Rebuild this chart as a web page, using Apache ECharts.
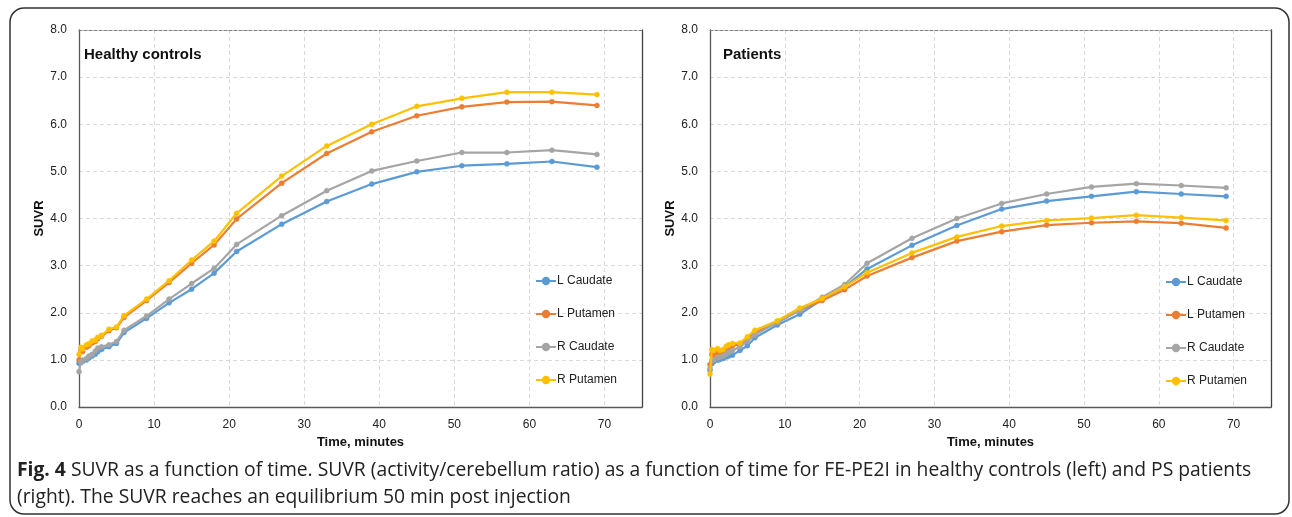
<!DOCTYPE html>
<html>
<head>
<meta charset="utf-8">
<script src="https://cdn.jsdelivr.net/npm/echarts@6/dist/echarts.min.js"></script>
<style>
  html, body { margin: 0; padding: 0; background: #fff; }
  #chart { width: 1292px; height: 517px; }
</style>
</head>
<body>
<div id="chart"></div>
<script>
// ---- data ----
const times = [0, 0.25, 0.5, 1, 1.33, 1.75, 2.17, 2.5, 3, 4, 5, 6, 9, 12, 15, 18, 21, 27, 33, 39, 45, 51, 57, 63, 69];
const seriesNames = ['L Caudate', 'L Putamen', 'R Caudate', 'R Putamen'];
const xTickLabels = [0, 10, 20, 30, 40, 50, 60, 70];
const yTickLabels = ['0.0', '1.0', '2.0', '3.0', '4.0', '5.0', '6.0', '7.0', '8.0'];

// Healthy controls
const hcLCaudate = [0.93, 0.94, 0.97, 1.00, 1.04, 1.08, 1.12, 1.17, 1.22, 1.28, 1.35, 1.58, 1.88, 2.21, 2.50, 2.84, 3.30, 3.88, 4.36, 4.73, 4.99, 5.12, 5.16, 5.21, 5.09];
const hcLPutamen = [1.00, 1.20, 1.18, 1.27, 1.30, 1.36, 1.39, 1.45, 1.50, 1.62, 1.68, 1.90, 2.26, 2.64, 3.05, 3.44, 3.99, 4.75, 5.38, 5.84, 6.18, 6.37, 6.47, 6.48, 6.40];
const hcRCaudate = [0.75, 0.96, 1.00, 1.03, 1.08, 1.12, 1.19, 1.25, 1.28, 1.32, 1.39, 1.63, 1.93, 2.29, 2.62, 2.94, 3.45, 4.06, 4.59, 5.01, 5.22, 5.40, 5.40, 5.45, 5.36];
const hcRPutamen = [1.12, 1.27, 1.23, 1.32, 1.34, 1.40, 1.42, 1.48, 1.52, 1.65, 1.70, 1.94, 2.29, 2.68, 3.12, 3.52, 4.11, 4.90, 5.54, 6.00, 6.38, 6.55, 6.68, 6.68, 6.63];

// Patients
const ptLCaudate = [0.78, 0.92, 0.96, 0.99, 1.01, 1.03, 1.06, 1.08, 1.10, 1.20, 1.30, 1.47, 1.74, 1.97, 2.28, 2.55, 2.93, 3.43, 3.85, 4.20, 4.37, 4.47, 4.57, 4.52, 4.47];
const ptLPutamen = [0.90, 1.12, 1.10, 1.15, 1.14, 1.17, 1.22, 1.26, 1.30, 1.33, 1.45, 1.58, 1.79, 2.05, 2.26, 2.49, 2.78, 3.17, 3.52, 3.72, 3.86, 3.91, 3.94, 3.90, 3.80];
const ptRCaudate = [0.82, 0.98, 1.00, 1.04, 1.06, 1.08, 1.12, 1.16, 1.20, 1.28, 1.39, 1.53, 1.80, 2.05, 2.33, 2.60, 3.05, 3.58, 4.00, 4.32, 4.52, 4.67, 4.74, 4.70, 4.65];
const ptRPutamen = [0.70, 1.22, 1.20, 1.24, 1.20, 1.22, 1.29, 1.32, 1.35, 1.36, 1.49, 1.63, 1.83, 2.10, 2.30, 2.55, 2.85, 3.27, 3.61, 3.84, 3.96, 4.01, 4.07, 4.02, 3.96];

const panelTitles = ['Healthy controls', 'Patients'];
const xAxisTitle = 'Time, minutes';
const yAxisTitle = 'SUVR';
const captionBold = 'Fig. 4';
const captionText1 = ' SUVR as a function of time. SUVR (activity/cerebellum ratio) as a function of time for FE-PE2I in healthy controls (left) and PS patients';
const captionText2 = '(right). The SUVR reaches an equilibrium 50 min post injection';

// ---- chart ----
const colors = ['#5B9BD5', '#ED7D31', '#A5A5A5', '#FFC000'];
const FONT = '"Liberation Sans", Arial, sans-serif';
const CAPFONT = '"Open Sans", "Noto Sans", sans-serif';
const pairs = vals => times.map((t, i) => [t, vals[i]]);
const panels = [
  [hcLCaudate, hcLPutamen, hcRCaudate, hcRPutamen],
  [ptLCaudate, ptLPutamen, ptRCaudate, ptRPutamen]
];

const grids = [
  { left: 79, right: 650, top: 30, bottom: 110 },
  { left: 710, right: 21, top: 30, bottom: 110 }
];

const xAxes = [], yAxes = [], series = [];
grids.forEach((g, gi) => {
  xAxes.push({
    type: 'value', gridIndex: gi, min: 0, max: 75, interval: 10,
    name: xAxisTitle, nameLocation: 'middle', nameGap: 23,
    nameTextStyle: { fontFamily: FONT, fontSize: 13, fontWeight: 'bold', color: '#111' },
    axisLine: { show: true, lineStyle: { color: '#595959', width: 1.3 } },
    axisTick: { show: false },
    axisLabel: { showMaxLabel: false, fontFamily: FONT, fontSize: 12, color: '#222', margin: 12,
      formatter: v => xTickLabels.includes(v) ? String(v) : '' },
    splitLine: { show: true, lineStyle: { color: '#d9d9d9', type: [4, 3] } }
  });
  xAxes.push({
    type: 'value', gridIndex: gi, min: 0, max: 75, position: 'top',
    axisLine: { show: true, onZero: false, lineStyle: { color: '#808080', type: [3, 2], width: 1 } },
    axisTick: { show: false }, axisLabel: { show: false }, splitLine: { show: false }
  });
  yAxes.push({
    type: 'value', gridIndex: gi, min: 0, max: 8, interval: 1,
    name: yAxisTitle, nameLocation: 'middle', nameGap: 33, nameRotate: 90,
    nameTextStyle: { fontFamily: FONT, fontSize: 13, fontWeight: 'bold', color: '#111' },
    axisLine: { show: true, lineStyle: { color: '#595959', width: 1.3 } },
    axisTick: { show: false },
    axisLabel: { fontFamily: FONT, fontSize: 12, color: '#222', margin: 12,
      formatter: v => yTickLabels[Math.round(v)] },
    splitLine: { show: true, lineStyle: { color: '#d9d9d9', type: [4, 3] } }
  });
  yAxes.push({
    type: 'value', gridIndex: gi, min: 0, max: 8, position: 'right',
    axisLine: { show: true, onZero: false, lineStyle: { color: '#404040', width: 1.3 } },
    axisTick: { show: false }, axisLabel: { show: false }, splitLine: { show: false }
  });
  panels[gi].forEach((vals, si) => {
    series.push({
      type: 'line', name: seriesNames[si],
      xAxisIndex: gi * 2, yAxisIndex: gi * 2,
      data: pairs(vals),
      symbol: 'circle', symbolSize: 5,
      lineStyle: { width: 2.2, color: colors[si] },
      itemStyle: { color: colors[si], borderColor: colors[si], borderWidth: 0.5 },
      z: 2 + si
    });
  });
});

const legendCommon = {
  orient: 'vertical', itemGap: 21, itemWidth: 20, itemHeight: 8,
  data: seriesNames,
  textStyle: { fontFamily: FONT, fontSize: 12, color: '#222', padding: [0, 0, 0, -4] }
};

const chart = echarts.init(document.getElementById('chart'), null, { renderer: 'canvas' });
chart.setOption({
  animation: false,
  color: colors,
  grid: grids,
  xAxis: xAxes,
  yAxis: yAxes,
  legend: [
    Object.assign({ left: 530, top: 270 }, legendCommon),
    Object.assign({ left: 1160, top: 271 }, legendCommon)
  ],
  title: [
    { text: panelTitles[0], left: 84, top: 47, textStyle: { fontFamily: FONT, fontSize: 15, fontWeight: 'bold', color: '#111' }, padding: 0 },
    { text: panelTitles[1], left: 723, top: 47, textStyle: { fontFamily: FONT, fontSize: 15, fontWeight: 'bold', color: '#111' }, padding: 0 }
  ],
  series: series,
  graphic: [
    { type: 'rect', shape: { x: 10, y: 8, width: 1279, height: 506, r: 14 },
      style: { fill: 'none', stroke: '#333', lineWidth: 1.5 }, z: -1 },
    { type: 'text', left: 17, top: 457,
      style: {
        text: '{b|' + captionBold + '}' + captionText1 + '\n' + captionText2,
        font: '19.3px ' + CAPFONT,
        fill: '#222', lineHeight: 27,
        rich: { b: { fontWeight: 'bold', fontSize: 19.3, fontFamily: CAPFONT, fill: '#222', lineHeight: 27 } }
      } }
  ]
});
</script>
</body>
</html>
